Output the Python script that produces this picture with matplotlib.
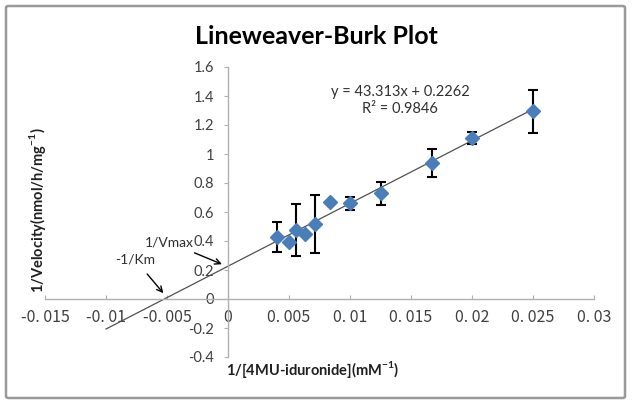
import matplotlib
matplotlib.use("Agg")
import matplotlib.pyplot as plt
from matplotlib.patches import FancyBboxPatch
import numpy as np

# Data
inv_substrate = [0.0040, 0.0050, 0.0056, 0.0063, 0.0071, 0.0084, 0.0100, 0.0125, 0.0167, 0.0200, 0.0250]
inv_velocity = [0.428, 0.395, 0.475, 0.450, 0.517, 0.670, 0.660, 0.730, 0.938, 1.110, 1.294]
err = [0.105, 0.0, 0.180, 0.0, 0.200, 0.0, 0.045, 0.080, 0.095, 0.040, 0.150]
slope = 43.313
intercept = 0.2262
r2 = 0.9846
trend_x = [-0.01, 0.025]

xticks = [-0.015, -0.01, -0.005, 0, 0.005, 0.01, 0.015, 0.02, 0.025, 0.03]
xticklabels = ["-0. 015", "-0. 01", "-0. 005", "0", "0. 005", "0. 01", "0. 015", "0. 02", "0. 025", "0. 03"]
yticks = [-0.4, -0.2, 0, 0.2, 0.4, 0.6, 0.8, 1.0, 1.2, 1.4, 1.6]
yticklabels = ["-0.4", "-0.2", "0", "0.2", "0.4", "0.6", "0.8", "1", "1.2", "1.4", "1.6"]

W, H = 632, 403
fig = plt.figure(figsize=(W / 100, H / 100), dpi=100)
fig.patch.set_facecolor("white")

# outer chart border
border = FancyBboxPatch((6 / W, 5 / H), (625 - 6) / W, (397 - 5) / H,
                        boxstyle="round,pad=0,rounding_size=0.004",
                        transform=fig.transFigure, facecolor="none",
                        edgecolor="#9a9a9a", linewidth=1.8)
fig.patches.append(border)

ax = fig.add_axes([45 / W, (H - 357) / H, 549 / W, 290 / H])
ax.set_xlim(-0.015, 0.03)
ax.set_ylim(-0.4, 1.6)
ax.set_facecolor("none")

for s in ["top", "right"]:
    ax.spines[s].set_visible(False)
ax.spines["left"].set_position(("data", 0))
ax.spines["bottom"].set_position(("data", 0))
for s in ["left", "bottom"]:
    ax.spines[s].set_color("#b0b0b0")
    ax.spines[s].set_linewidth(1.0)

ax.set_xticks(xticks)
ax.set_xticklabels(xticklabels, family=["Noto Sans CJK JP", "DejaVu Sans"], fontsize=11.5, color="#404040")
ax.set_yticks(yticks)
ax.set_yticklabels(yticklabels, family="Lato", fontsize=10.5, color="#404040")
ax.tick_params(axis="x", direction="in", length=3, color="#b0b0b0", pad=7)
ax.tick_params(axis="y", direction="out", length=3, color="#b0b0b0", pad=7)

# trendline
tx = np.array(trend_x)
ax.plot(tx, slope * tx + intercept, color="#505050", linewidth=0.9, zorder=2)

# error bars (only where present)
ex = [x for x, e in zip(inv_substrate, err) if e > 0]
ey = [y for y, e in zip(inv_velocity, err) if e > 0]
ee = [e for e in err if e > 0]
ax.errorbar(ex, ey, yerr=ee, fmt="none", ecolor="black", elinewidth=1.5,
            capsize=3.5, capthick=1.5, zorder=3)
ax.plot(inv_substrate, inv_velocity, linestyle="none", marker="D", markersize=7,
        color="#4a7ebb", markeredgecolor="#4a7ebb", zorder=4)

# equation text
ax.text(0.0141, 1.428, f"y = {slope}x + {intercept}", ha="center", va="center",
        family="Lato", fontsize=10.5, color="#303030")
ax.text(0.0141, 1.31, f"R² = {r2}", ha="center", va="center",
        family="Lato", fontsize=10.5, color="#303030")

# annotations
ax.annotate("1/Vmax", xy=(-0.0005, 0.24), xytext=(-0.0048, 0.39),
            ha="center", va="center", family="Lato", fontsize=10, color="#303030",
            arrowprops=dict(arrowstyle="->", color="black", lw=1.0, shrinkA=3, shrinkB=0))
ax.annotate("-1/Km", xy=(-0.0053, 0.04), xytext=(-0.0076, 0.27),
            ha="center", va="center", family="Lato", fontsize=10, color="#303030",
            arrowprops=dict(arrowstyle="->", color="black", lw=1.0, shrinkA=5, shrinkB=0))

# titles
fig.text(316 / W, 1 - 37 / H, "Lineweaver-Burk Plot", ha="center", va="center",
         family="Lato", fontweight="bold", fontsize=18, color="black")
fig.text(313 / W, 1 - 370 / H, "1/[4MU-iduronide](mM$^{\\mathregular{-1}}$)", ha="center", va="center",
         family="Lato", fontweight="bold", fontsize=10.5, color="#202020")
fig.text(38 / W, 1 - 210 / H, "1/Velocity(nmol/h/mg$^{\\mathregular{-1}}$)", ha="center", va="center",
         rotation=90, family="Lato", fontweight="bold", fontsize=10.5, color="#202020")

fig.savefig("out.png", dpi=100)
